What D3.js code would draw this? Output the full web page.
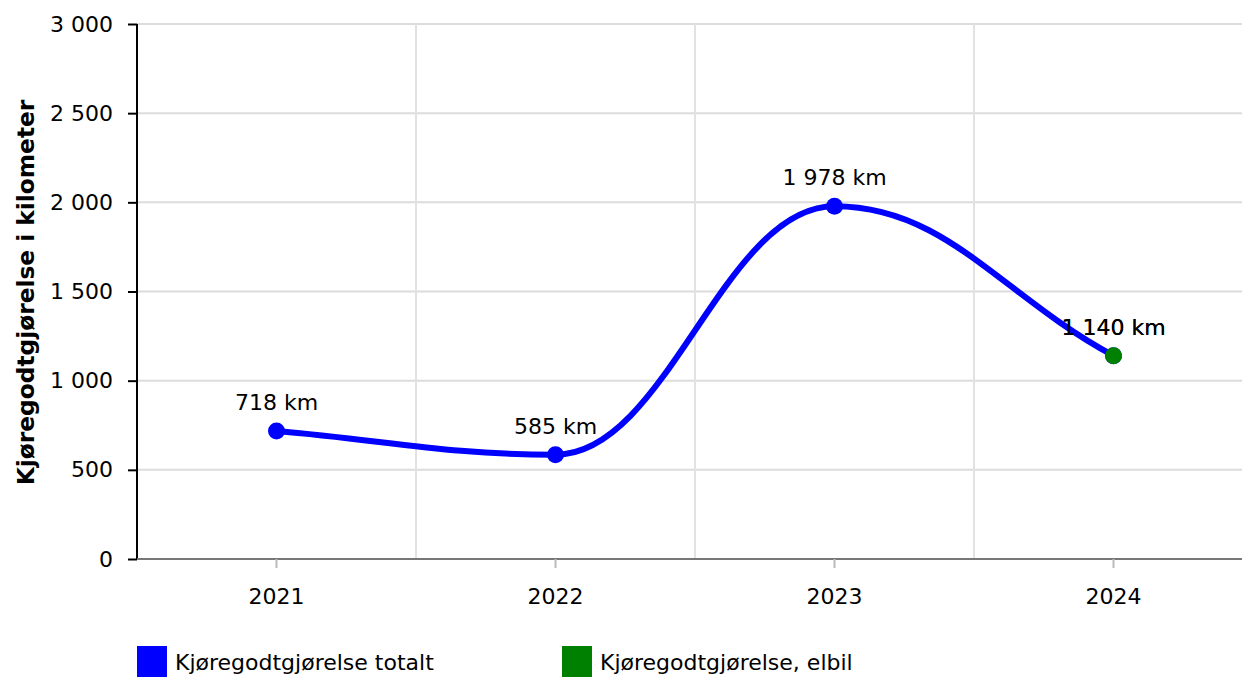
<!DOCTYPE html>
<html><head><meta charset="utf-8">
<script src="https://cdn.jsdelivr.net/npm/d3@7"></script>
<style>body{margin:0;background:#fff;overflow:hidden}svg{display:block;font-family:Verdana,"DejaVu Sans",sans-serif}</style>
</head><body>
<svg id="c" width="1242" height="677"></svg>
<script>
const categories = ["2021","2022","2023","2024"];
const totalValues = [718, 585, 1978, 1140];
const elbilValues = [null, null, null, 1140];
const yTicks = [0, 500, 1000, 1500, 2000, 2500, 3000];
const seriesNames = ["Kjøregodtgjørelse totalt", "Kjøregodtgjørelse, elbil"];
const seriesColors = ["#0000ff", "#008000"];
const yTitle = "Kjøregodtgjørelse i kilometer";

(function(){
const FONT = "Verdana,'DejaVu Sans',sans-serif";
const svg = d3.select("#c");
const pl = 137, pr = 1253, pt = 24, pb = 559;
const x = d3.scaleBand().domain(categories).range([pl, pr]).padding(0);
const y = d3.scaleLinear().domain([0, 3000]).range([pb, pt]);
const fmt = v => d3.format(",")(v).replace(/,/g, " ");

// grid
svg.append("g").selectAll("line").data(yTicks.filter(d=>d>0)).join("line")
  .attr("x1", pl).attr("x2", 1242).attr("y1", d=>y(d)).attr("y2", d=>y(d))
  .attr("stroke", "#dcdcdc").attr("stroke-width", 2);
svg.append("g").selectAll("line").data(categories.slice(1)).join("line")
  .attr("x1", d=>x(d)).attr("x2", d=>x(d)).attr("y1", pt).attr("y2", pb)
  .attr("stroke", "#e2e2e2").attr("stroke-width", 2);

// y axis
const yAxis = svg.append("g").attr("transform", `translate(${pl},0)`)
  .call(d3.axisLeft(y).tickValues(yTicks).tickFormat(fmt).tickSize(9).tickPadding(15));
yAxis.select(".domain").attr("stroke", "#000").attr("stroke-width", 2).attr("d", `M0,${pt}V${pb}`);
yAxis.selectAll(".tick line").attr("stroke", "#000").attr("stroke-width", 2);
yAxis.selectAll(".tick text").attr("font-size", 22).attr("fill", "#000").attr("font-family", FONT);

// x axis
const xAxis = svg.append("g").attr("transform", `translate(0,${pb})`)
  .call(d3.axisBottom(x).tickSize(9).tickPadding(20));
xAxis.select(".domain").attr("stroke", "#777").attr("stroke-width", 2).attr("d", `M${pl},0H${pr}`);
xAxis.selectAll(".tick line").attr("stroke", "#bbb").attr("stroke-width", 2);
xAxis.selectAll(".tick text").attr("font-size", 22).attr("fill", "#000").attr("font-family", FONT);

// y title
svg.append("text").attr("transform", `translate(34,292.5) rotate(-90)`)
  .attr("text-anchor", "middle").attr("font-size", 23.3).attr("font-weight", "bold").attr("fill", "#000").text(yTitle);

const cx = d => x(d) + x.bandwidth()/2;

// monotone-style smoothing: flat tangent at local extremes, secant tangent at ends, control arms 0.4 of the gap
function smooth(points){
  const n = points.length, p = d3.path();
  const sec = [];
  for (let i = 0; i < n-1; i++) sec.push((points[i+1][1]-points[i][1])/(points[i+1][0]-points[i][0]));
  const m = points.map((_, i) => {
    if (i === 0) return sec[0];
    if (i === n-1) return sec[n-2];
    return (sec[i-1]*sec[i] <= 0) ? 0 : (sec[i-1]+sec[i])/2;
  });
  p.moveTo(points[0][0], points[0][1]);
  for (let i = 0; i < n-1; i++){
    const a = points[i], b = points[i+1], dx = (b[0]-a[0])*0.4;
    p.bezierCurveTo(a[0]+dx, a[1]+m[i]*dx, b[0]-dx, b[1]-m[i+1]*dx, b[0], b[1]);
  }
  return p.toString();
}
const pts = categories.map((c,i)=>[cx(c), y(totalValues[i])]);
svg.append("path").attr("d", smooth(pts))
  .attr("fill", "none").attr("stroke", seriesColors[0]).attr("stroke-width", 6);

function drawSeries(vals, color){
  const g = svg.append("g");
  categories.forEach((c,i)=>{
    if (vals[i] == null) return;
    g.append("circle").attr("cx", cx(c)).attr("cy", y(vals[i])).attr("r", 8.5).attr("fill", color);
    g.append("text").attr("x", cx(c)).attr("y", y(vals[i]) - 21).attr("text-anchor", "middle")
      .attr("font-size", 22).attr("fill", "#000").text(fmt(vals[i]) + " km");
  });
}
drawSeries(totalValues, seriesColors[0]);
drawSeries(elbilValues, seriesColors[1]);

// legend
const legX = [137, 562];
seriesNames.forEach((n,i)=>{
  svg.append("rect").attr("x", legX[i]).attr("y", 646).attr("width", 30).attr("height", 31).attr("fill", seriesColors[i]);
  svg.append("text").attr("x", legX[i]+38).attr("y", 670).attr("font-size", 22).attr("fill", "#000").text(n);
});
})();
</script>
</body></html>
